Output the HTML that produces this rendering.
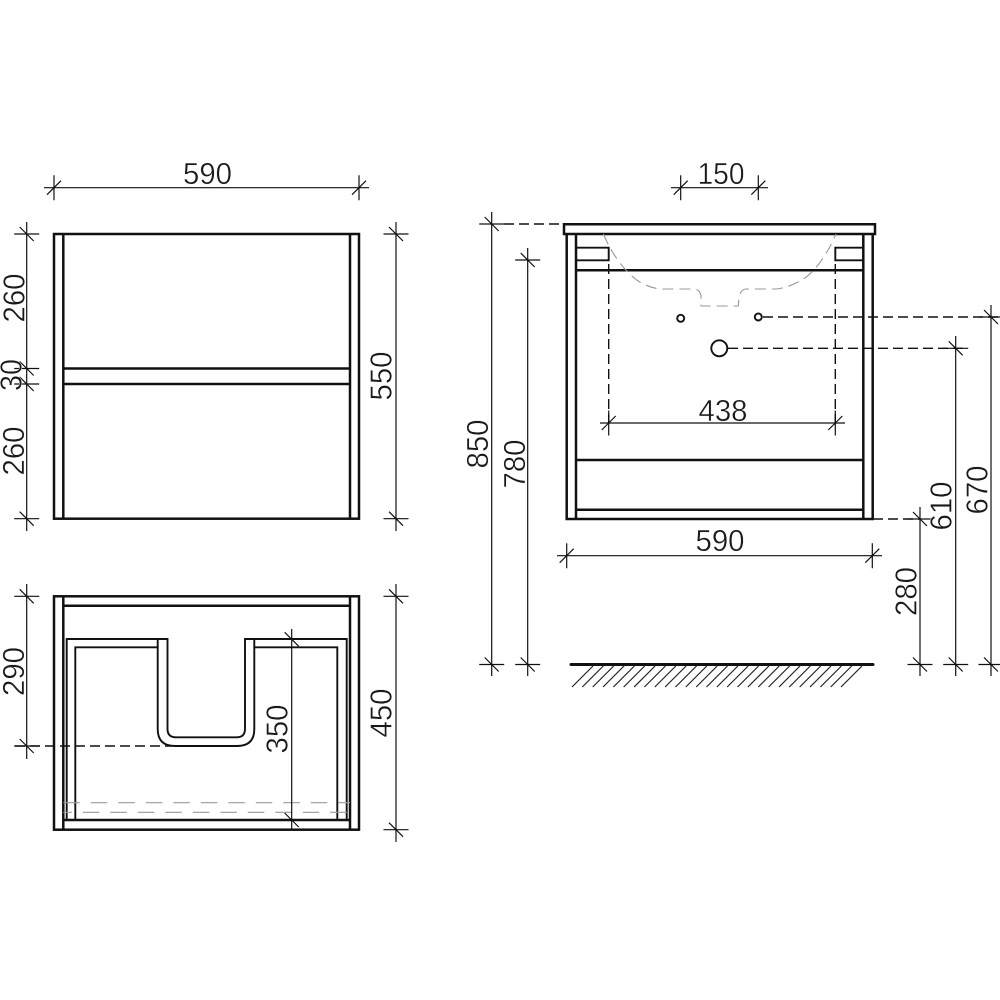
<!DOCTYPE html>
<html><head><meta charset="utf-8"><style>
html,body{margin:0;padding:0;background:#fff}
svg{display:block}
text{font-family:"Liberation Sans",sans-serif;font-size:30.5px;fill:#1a1a1a;stroke:#fff;stroke-width:.4;text-anchor:middle}
</style></head><body>
<svg width="1000" height="1000" viewBox="0 0 1000 1000" xmlns="http://www.w3.org/2000/svg">
<defs>
<g id="a" stroke="#111" stroke-width="1.2" fill="none"><path d="M0-12.5V12.5M-7 7L7-7"/></g>
<g id="b" stroke="#111" stroke-width="1.2" fill="none"><path d="M-12.5 0H12.5M-7-7L7 7"/></g>
</defs>
<rect width="1000" height="1000" fill="#fff"/>

<!-- front view left -->
<g fill="none" stroke="#111" stroke-width="2.5">
<rect x="54" y="234" width="305" height="284.7"/>
<path d="M63.3 234V518.7M350 234V518.7M63.3 368.5H350M63.3 384H350"/>
</g>

<!-- bottom left view -->
<g fill="none" stroke="#111" stroke-width="2.5">
<rect x="54" y="596.3" width="305" height="233.4"/>
<path d="M63.3 596.3V829.7M350 596.3V829.7M63.3 605.7H350M63.3 820H350"/>
</g>
<g fill="none" stroke="#111" stroke-width="1.9">
<path d="M66.7 820V639H167.5V729Q167.5 737.3 176 737.3H236.5Q245 737.3 245 729V639H346.7V820"/>
<path d="M75.3 820V647.3H157.7V729Q157.7 746 175 746H237Q254.3 746 254.3 729V647.3H337.3V820"/>
<path d="M157.7 639V647.3M254.3 639V647.3"/>
<path d="M15 746H172" stroke-dasharray="10 5" stroke-width="1.6"/>
</g>
<g fill="none" stroke="#999" stroke-width="1.1">
<path d="M63.3 802.7H350" stroke-dasharray="16.5 11"/>
<path d="M63.3 812.3H350" stroke-dasharray="16.5 11" stroke-dashoffset="8"/>
</g>

<!-- right view -->
<g fill="none" stroke="#111" stroke-width="2.5">
<path d="M564 234V224.3H875V234Z"/>
<path d="M566.7 234V519H872.7V234M576 234V519M863.3 234V519M576 270.3H863.3M576 460H863.3M576 509.7H863.3"/>
</g>
<g fill="none" stroke="#111" stroke-width="1.9">
<path d="M576 247.7H608.7V260.3H576M863.3 247.7H835.3V260.3H863.3"/>
<circle cx="680.7" cy="318.3" r="3.5"/>
<circle cx="758.3" cy="317" r="3.5"/>
<circle cx="719.3" cy="348.3" r="8"/>
</g>
<g fill="none" stroke="#111" stroke-width="1.4" stroke-dasharray="10 5">
<path d="M608.7 264V425M835.3 264V425"/>
<path d="M763 317H1000M728 348.3H968"/>
<path d="M504 224H564M873 519H920" stroke-width="1.6"/>
</g>
<path d="M603.3 234Q617 265 636.7 280Q650 289 663.3 289H693Q700 289 701 296V306H738.3L739 297Q741 289 746 289H776.7Q792 287 806.7 276.7Q824 262 836 234" fill="none" stroke="#999" stroke-width="1.1" stroke-dasharray="11 6"/>

<!-- ground -->
<path d="M571 664.5H873" stroke="#111" stroke-width="3" stroke-linecap="round"/>
<path fill="none" stroke="#222" stroke-width="1.2" d="M572 687L593 666M582.3 687L603.3 666M592.7 687L613.7 666M603 687L624 666M613.4 687L634.4 666M623.7 687L644.7 666M634.1 687L655.1 666M644.4 687L665.4 666M654.8 687L675.8 666M665.1 687L686.1 666M675.5 687L696.5 666M685.8 687L706.8 666M696.2 687L717.2 666M706.5 687L727.5 666M716.9 687L737.9 666M727.2 687L748.2 666M737.6 687L758.6 666M747.9 687L768.9 666M758.3 687L779.3 666M768.6 687L789.6 666M779 687L800 666M789.3 687L810.3 666M799.7 687L820.7 666M810 687L831 666M820.4 687L841.4 666M830.7 687L851.7 666M841 687L862 666"/>

<!-- dimension lines -->
<path fill="none" stroke="#111" stroke-width="1.2" d="M44 187.7H369M26.7 222V531M396 222V531M26.7 584V759M396 584V842M291.7 629V830M671 187.7H768M600 423H845M557 555.7H882M491.7 212V676M527.7 248V676M920 507V676M955.7 336V676M991 305V676"/>
<use href="#a" x="54" y="187.7"/><use href="#a" x="359" y="187.7"/>
<use href="#b" x="26.7" y="234"/><use href="#b" x="26.7" y="368.5"/><use href="#b" x="26.7" y="384"/><use href="#b" x="26.7" y="518.7"/>
<use href="#b" x="396" y="234"/><use href="#b" x="396" y="518.7"/>
<use href="#b" x="26.7" y="596.3"/><use href="#b" x="26.7" y="746"/>
<use href="#b" x="396" y="596.3"/><use href="#b" x="396" y="829.7"/>
<path fill="none" stroke="#111" stroke-width="1.2" d="M284.7 632.3L298.7 646.3M284.7 813L298.7 827"/>
<use href="#a" x="680.7" y="187.7"/><use href="#a" x="758.3" y="187.7"/>
<use href="#a" x="608.7" y="423"/><use href="#a" x="835.3" y="423"/>
<use href="#a" x="566.7" y="555.7"/><use href="#a" x="872.3" y="555.7"/>
<use href="#b" x="491.7" y="224"/><use href="#b" x="491.7" y="664.5"/>
<use href="#b" x="527.7" y="260"/><use href="#b" x="527.7" y="664.5"/>
<use href="#b" x="920" y="519"/><use href="#b" x="920" y="664.5"/>
<use href="#b" x="955.7" y="348.3"/><use href="#b" x="955.7" y="664.5"/>
<use href="#b" x="991" y="317"/><use href="#b" x="991" y="664.5"/>

<!-- labels -->
<text x="207.5" y="184" textLength="49" lengthAdjust="spacingAndGlyphs">590</text>
<text x="721" y="184" textLength="47" lengthAdjust="spacingAndGlyphs">150</text>
<text x="723" y="421" textLength="49" lengthAdjust="spacingAndGlyphs">438</text>
<text x="720" y="551" textLength="49" lengthAdjust="spacingAndGlyphs">590</text>
<text transform="translate(24.3 298) rotate(-90)" textLength="49" lengthAdjust="spacingAndGlyphs">260</text>
<text transform="translate(24 451) rotate(-90)" textLength="49" lengthAdjust="spacingAndGlyphs">260</text>
<text transform="translate(21.7 375) rotate(-90)" textLength="32" lengthAdjust="spacingAndGlyphs">30</text>
<text transform="translate(391.7 376) rotate(-90)" textLength="49" lengthAdjust="spacingAndGlyphs">550</text>
<text transform="translate(24 671.5) rotate(-90)" textLength="49" lengthAdjust="spacingAndGlyphs">290</text>
<text transform="translate(287.5 729) rotate(-90)" textLength="49" lengthAdjust="spacingAndGlyphs">350</text>
<text transform="translate(391.7 713) rotate(-90)" textLength="49" lengthAdjust="spacingAndGlyphs">450</text>
<text transform="translate(488 444) rotate(-90)" textLength="49" lengthAdjust="spacingAndGlyphs">850</text>
<text transform="translate(525 464) rotate(-90)" textLength="49" lengthAdjust="spacingAndGlyphs">780</text>
<text transform="translate(916.7 591.5) rotate(-90)" textLength="49" lengthAdjust="spacingAndGlyphs">280</text>
<text transform="translate(951.7 506) rotate(-90)" textLength="49" lengthAdjust="spacingAndGlyphs">610</text>
<text transform="translate(987.3 490) rotate(-90)" textLength="49" lengthAdjust="spacingAndGlyphs">670</text>
</svg>
</body></html>
